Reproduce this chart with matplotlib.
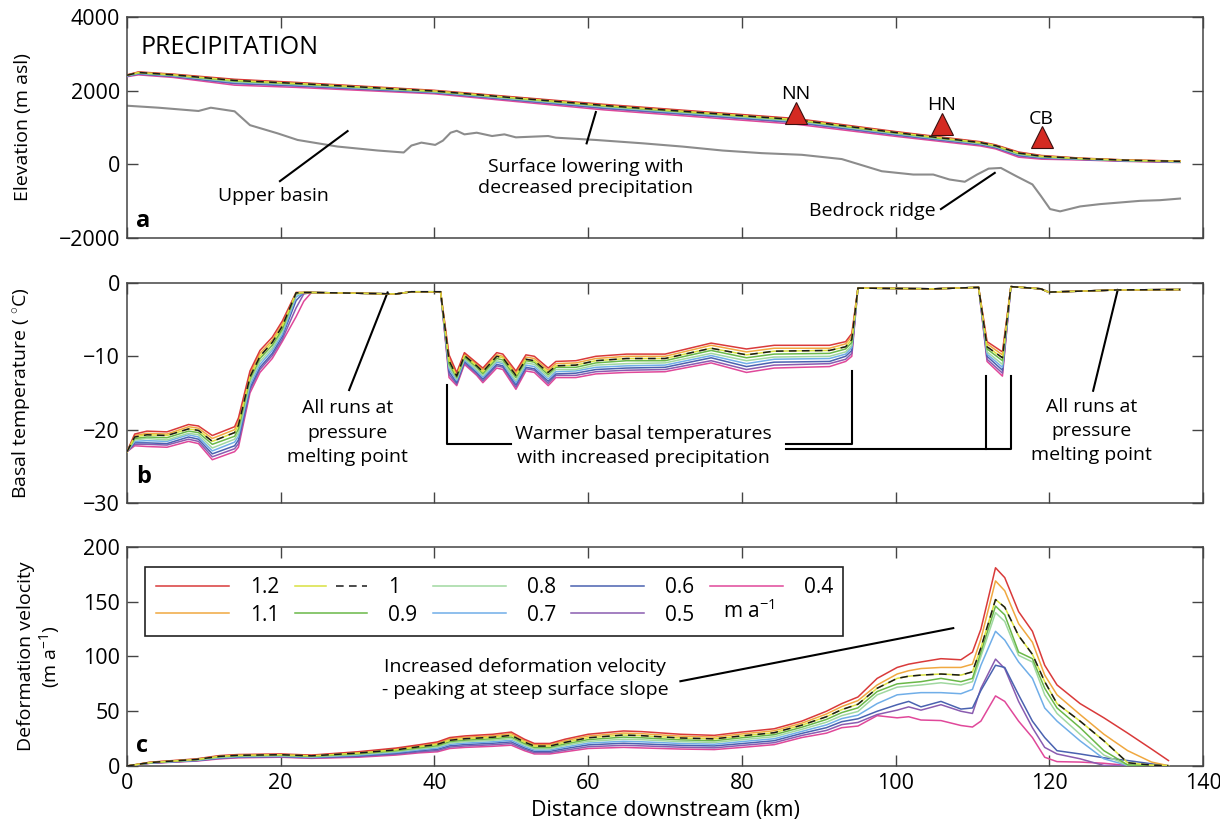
import matplotlib
matplotlib.use("Agg")
import matplotlib.pyplot as plt
from matplotlib.lines import Line2D
from matplotlib.legend_handler import HandlerTuple

plt.rcParams['font.family'] = ['Open Sans', 'DejaVu Sans']
plt.rcParams['mathtext.fontset'] = 'custom'
plt.rcParams['mathtext.rm'] = 'Open Sans'
plt.rcParams['mathtext.it'] = 'Open Sans:italic'
plt.rcParams['axes.unicode_minus'] = True

# ---------------- data ----------------
precip_labels = ['1.2', '1.1', '1', '0.9', '0.8', '0.7', '0.6', '0.5', '0.4']
series_colors = ['#d93a3a', '#f0a840', '#1a1a1a', '#6ab848', '#a0d8a0',
                 '#70aee8', '#4a62b0', '#8a5cb0', '#e0489a']
dash_under_color = '#d8e040'

# panel a: bedrock profile
bed_km = [0, 4.1, 9.3, 10.9, 14.0, 16.0, 19.6, 22.2, 27.4, 32.6, 36.0, 37.0, 38.3,
          40.1, 41.1, 42.1, 42.9, 43.9, 45.5, 47.5, 49.1, 50.6, 52.7, 54.8, 55.8,
          61.0, 67.1, 72.3, 77.5, 82.6, 87.8, 93.0, 98.2, 102.3, 104.9, 107.0,
          109.0, 110.6, 112.1, 113.7, 115.7, 117.8, 118.9, 120.1, 121.4, 124.0,
          126.6, 129.2, 131.8, 134.4, 137.0]
bed_elev = [1592, 1538, 1449, 1538, 1440, 1064, 841, 662, 483, 376, 322, 510, 590,
            528, 644, 859, 912, 814, 859, 769, 814, 733, 751, 769, 724,
            662, 571, 482, 375, 304, 259, 143, -187, -277, -277, -411,
            -473, -277, -116, -98, -321, -545, -857, -1214, -1277, -1143,
            -1080, -1036, -991, -973, -929]

# panel a: surface elevation for each precipitation run
surf_km = [0, 1.5, 6, 14, 22, 40, 62, 87, 100, 111, 113, 116, 119, 124, 130, 137]
surf_12 = [2430, 2510, 2450, 2310, 2225, 2010, 1630, 1245, 890, 615, 530, 335, 240, 170, 120, 90]
surf_11 = [2425, 2502, 2441, 2294, 2211, 2000, 1615, 1230, 877, 603, 519, 321, 230, 165, 116, 86]
surf_10 = [2420, 2494, 2432, 2278, 2198, 1991, 1600, 1214, 864, 592, 508, 307, 220, 160, 112, 82]
surf_09 = [2415, 2486, 2423, 2262, 2184, 1981, 1585, 1198, 851, 580, 497, 293, 210, 155, 108, 78]
surf_08 = [2410, 2478, 2414, 2246, 2171, 1972, 1570, 1183, 838, 569, 486, 279, 200, 150, 104, 74]
surf_07 = [2405, 2470, 2405, 2230, 2158, 1962, 1555, 1168, 825, 557, 475, 265, 190, 145, 100, 70]
surf_06 = [2399, 2460, 2394, 2211, 2141, 1951, 1537, 1149, 809, 544, 462, 248, 178, 139, 95, 65]
surf_05 = [2392, 2450, 2382, 2190, 2124, 1939, 1517, 1129, 792, 529, 448, 230, 165, 132, 90, 60]
surf_04 = [2380, 2430, 2360, 2150, 2090, 1915, 1480, 1090, 760, 500, 420, 195, 140, 120, 80, 50]

# panel a: station markers
station_names = ['NN', 'HN', 'CB']
station_km = [87.0, 106.0, 119.0]
station_elev = [1400, 1100, 730]

# panel b: basal temperature
temp_km = [0, 1.0, 2.6, 5.2, 8.0, 9.3, 11.1, 14.0, 14.5, 16.0, 17.3, 18.9, 20.2, 22.0,
           23.0, 24.0, 30, 35, 37, 40.8, 41.9, 42.9, 43.9, 45.5, 46.3, 48.1, 48.9,
           50.6, 51.9, 53.0, 54.8, 55.8, 58.4, 61.0, 65, 70, 76, 80.6, 84.2, 91.4,
           93.5, 94.3, 95.1, 100, 105, 110.8, 111.9, 113.9, 115, 118.9, 119.9, 129, 137]
temp_12 = [-23.0, -20.6, -20.2, -20.3, -19.3, -19.5, -20.8, -19.6, -18.4, -12.0, -9.2, -7.4, -5.2, -1.3,
           -1.3, -1.3, -1.4, -1.5, -1.2, -1.2, -9.8, -12.2, -9.5, -10.9, -11.6, -9.5, -9.7,
           -12.0, -9.8, -10.0, -11.6, -10.7, -10.6, -10.0, -9.7, -9.7, -8.2, -9.0, -8.5, -8.5,
           -8.0, -6.9, -0.7, -0.75, -0.8, -0.6, -8.0, -9.4, -0.5, -0.8, -1.25, -0.95, -0.9]
temp_11 = [-23.0, -20.8, -20.5, -20.6, -19.6, -19.8, -21.2, -20.0, -18.9, -12.4, -9.6, -7.8, -5.6, -1.3,
           -1.3, -1.3, -1.4, -1.5, -1.2, -1.2, -10.2, -12.4, -9.7, -11.1, -11.85, -9.8, -10.0,
           -12.3, -10.1, -10.3, -11.9, -11.0, -10.9, -10.3, -10.0, -10.0, -8.5, -9.4, -8.9, -8.9,
           -8.3, -7.3, -0.7, -0.75, -0.8, -0.6, -8.3, -9.8, -0.5, -0.8, -1.25, -0.95, -0.9]
temp_10 = [-23.0, -21.0, -20.7, -20.8, -19.9, -20.1, -21.6, -20.4, -19.4, -12.8, -10.0, -8.1, -5.9, -1.35,
           -1.3, -1.3, -1.4, -1.5, -1.2, -1.2, -10.6, -12.7, -9.9, -11.3, -12.1, -10.0, -10.2,
           -12.6, -10.4, -10.6, -12.2, -11.3, -11.2, -10.6, -10.3, -10.3, -8.9, -9.8, -9.3, -9.2,
           -8.7, -7.7, -0.7, -0.75, -0.8, -0.6, -8.7, -10.2, -0.5, -0.8, -1.25, -0.95, -0.9]
temp_09 = [-23.0, -21.2, -21.0, -21.1, -20.2, -20.4, -22.0, -20.9, -19.9, -13.1, -10.3, -8.5, -6.3, -1.4,
           -1.3, -1.3, -1.4, -1.5, -1.2, -1.2, -11.0, -12.9, -10.1, -11.5, -12.35, -10.3, -10.5,
           -12.9, -10.6, -10.8, -12.5, -11.5, -11.5, -10.9, -10.6, -10.6, -9.2, -10.2, -9.7, -9.6,
           -9.0, -8.1, -0.7, -0.75, -0.8, -0.6, -9.0, -10.6, -0.5, -0.8, -1.25, -0.95, -0.9]
temp_08 = [-23.0, -21.4, -21.2, -21.4, -20.5, -20.7, -22.5, -21.3, -20.4, -13.5, -10.7, -8.9, -6.6, -1.6,
           -1.3, -1.3, -1.4, -1.5, -1.2, -1.2, -11.4, -13.1, -10.3, -11.8, -12.6, -10.6, -10.8,
           -13.3, -10.9, -11.1, -12.8, -11.8, -11.8, -11.2, -11.0, -10.9, -9.6, -10.6, -10.1, -10.0,
           -9.4, -8.5, -0.7, -0.75, -0.8, -0.6, -9.4, -11.1, -0.5, -0.8, -1.25, -0.95, -0.9]
temp_07 = [-23.0, -21.6, -21.5, -21.6, -20.7, -21.0, -22.9, -21.7, -20.9, -13.9, -11.1, -9.2, -7.0, -1.9,
           -1.3, -1.3, -1.4, -1.5, -1.2, -1.2, -11.7, -13.3, -10.5, -12.0, -12.85, -10.8, -11.0,
           -13.6, -11.2, -11.4, -13.1, -12.1, -12.0, -11.5, -11.3, -11.2, -9.9, -11.0, -10.4, -10.3,
           -9.7, -8.8, -0.7, -0.75, -0.8, -0.6, -9.7, -11.5, -0.5, -0.8, -1.25, -0.95, -0.9]
temp_06 = [-23.0, -21.8, -21.8, -21.9, -21.0, -21.3, -23.3, -22.2, -21.4, -14.3, -11.5, -9.6, -7.3, -2.4,
           -1.3, -1.3, -1.4, -1.5, -1.2, -1.2, -12.1, -13.6, -10.7, -12.2, -13.1, -11.1, -11.3,
           -13.9, -11.5, -11.7, -13.4, -12.4, -12.3, -11.8, -11.6, -11.5, -10.2, -11.4, -10.8, -10.7,
           -10.0, -9.2, -0.7, -0.75, -0.8, -0.6, -10.0, -11.9, -0.5, -0.8, -1.25, -0.95, -0.9]
temp_05 = [-23.0, -22.0, -22.0, -22.1, -21.3, -21.6, -23.7, -22.6, -21.9, -14.6, -11.8, -9.9, -7.7, -3.4,
           -1.5, -1.3, -1.4, -1.5, -1.2, -1.2, -12.5, -13.8, -10.9, -12.4, -13.35, -11.3, -11.5,
           -14.2, -11.7, -11.9, -13.7, -12.6, -12.6, -12.1, -11.9, -11.8, -10.6, -11.8, -11.2, -11.0,
           -10.4, -9.6, -0.7, -0.75, -0.8, -0.6, -10.4, -12.3, -0.5, -0.8, -1.25, -0.95, -0.9]
temp_04 = [-23.0, -22.2, -22.3, -22.4, -21.6, -21.9, -24.1, -23.0, -22.4, -15.0, -12.2, -10.3, -8.0, -4.6,
           -2.5, -1.3, -1.4, -1.5, -1.2, -1.2, -12.9, -14.0, -11.1, -12.6, -13.6, -11.6, -11.8,
           -14.5, -12.0, -12.2, -14.0, -12.9, -12.9, -12.4, -12.2, -12.1, -10.9, -12.2, -11.6, -11.4,
           -10.7, -10.0, -0.7, -0.75, -0.8, -0.6, -10.7, -12.7, -0.5, -0.8, -1.25, -0.95, -0.9]

# panel c: deformation velocity
vel_km = [0, 3, 9, 12, 14.5, 20, 24, 30, 35, 38, 40.4, 42, 44, 47.6, 50, 51.7, 53, 55, 57,
          60, 64.6, 67, 72, 76.4, 80, 84.2, 87.8, 91, 93, 95.1, 97.6, 100.2, 101.7,
          103.3, 105.9, 108.5, 110, 111.1, 113, 114.2, 116, 117.8, 119.4, 121, 124,
          127.1, 130.2, 133.3, 135.5]
vel_12 = [0, 3.5, 6.5, 9.5, 10.5, 11, 10, 13, 16.4, 19.4, 22, 26, 27.5, 29, 31, 24.5, 20.6, 20.6, 24.5,
          29, 32, 31.4, 29, 28, 31, 34, 41, 50, 57, 63, 80, 90, 93,
          95, 98, 97, 104, 125, 181, 172, 141, 123, 92, 74, 57, 44, 30, 15.5, 5]
vel_11 = [0, 3.4, 6.2, 9.1, 10.1, 10.6, 9.6, 12.4, 15.6, 18.5, 20.9, 24.8, 26.2, 27.6, 29.5, 23.2, 19.4, 19.4, 23.1,
          27.4, 30.1, 29.5, 27.3, 26.4, 29.3, 32.2, 39.1, 47.5, 54.3, 59.7, 74, 84, 87,
          89, 90, 90, 93, 116, 169, 160, 130, 113, 83, 65, 47, 29, 14, 3.6, 0.3]
vel_10 = [0, 3.2, 6.0, 8.8, 9.8, 10.3, 9.3, 11.8, 14.8, 17.6, 19.8, 23.5, 24.9, 26.3, 28.0, 21.9, 18.2, 18.2, 21.6,
          25.8, 28.3, 27.7, 25.6, 24.8, 27.5, 30.4, 37.3, 45.0, 51.5, 56.4, 71, 80, 82,
          83, 84, 83, 86, 108, 152, 145, 119, 102, 77, 57, 41, 23, 3, 0.8, 0.3]
vel_09 = [0, 3.1, 5.8, 8.4, 9.4, 9.9, 8.9, 11.1, 14.0, 16.6, 18.6, 22.3, 23.6, 24.9, 26.5, 20.6, 17.0, 17.0, 20.2,
          24.1, 26.4, 25.8, 23.9, 23.1, 25.8, 28.6, 35.4, 42.5, 48.8, 53.1, 68, 75, 76,
          77, 80, 77, 80, 104, 146, 138, 104, 98, 71, 53, 35, 14, 1, 0.5, 0.2]
vel_08 = [0, 3.0, 5.5, 8.0, 9.0, 9.5, 8.5, 10.5, 13.2, 15.7, 17.5, 21.0, 22.3, 23.5, 25.0, 19.3, 15.8, 15.8, 18.8,
          22.5, 24.5, 24.0, 22.3, 21.5, 24.0, 26.8, 33.5, 40.0, 46.0, 49.8, 65, 72, 73,
          74, 76, 74, 77, 100, 140, 132, 101, 95, 65, 48, 29, 10, 0.8, 0.4, 0.2]
vel_07 = [0, 2.9, 5.2, 7.6, 8.6, 9.1, 8.1, 9.9, 12.4, 14.8, 16.4, 19.8, 20.9, 22.1, 23.5, 17.9, 14.6, 14.6, 17.3,
          20.9, 22.6, 22.1, 20.6, 19.9, 22.3, 24.9, 31.6, 37.5, 43.3, 46.4, 57, 65, 66,
          67, 67, 66, 70, 92, 123, 115, 95, 80, 53, 41, 23, 6.6, 0.5, 0.3, 0.1]
vel_06 = [0, 2.7, 5.0, 7.3, 8.3, 8.8, 7.8, 9.3, 11.6, 13.9, 15.3, 18.5, 19.6, 20.8, 22.0, 16.6, 13.4, 13.4, 15.9,
          19.3, 20.8, 20.2, 18.9, 18.3, 20.5, 23.1, 29.8, 35.0, 40.5, 43.1, 50, 56, 59,
          54, 59, 52, 53, 69, 92, 90, 65, 41, 26, 14, 11, 7.5, 5, 2, 0.3]
vel_05 = [0, 2.6, 4.8, 6.9, 7.9, 8.4, 7.4, 8.6, 10.8, 12.9, 14.1, 17.3, 18.3, 19.4, 20.5, 15.3, 12.2, 12.2, 14.4,
          17.6, 18.9, 18.4, 17.2, 16.6, 18.8, 21.3, 27.9, 32.5, 37.8, 39.8, 47, 51, 54,
          51, 56, 50, 48, 71, 97.6, 89, 59, 35, 17, 11, 6.6, 0.5, 0.3, 0.2, 0.1]
vel_04 = [0, 2.5, 4.5, 6.5, 7.5, 8, 7, 8, 10, 12, 13, 16, 17, 18, 19, 14, 11, 11, 13,
          16, 17, 16.5, 15.5, 15, 17, 19.5, 26, 30, 35, 36.5, 46, 44, 45,
          42, 41.5, 37, 35.6, 41, 64, 59, 41, 26, 8, 4, 3.6, 2.5, 0.5, 0.3, 0.2]

surf_series = [surf_12, surf_11, surf_10, surf_09, surf_08, surf_07, surf_06, surf_05, surf_04]
temp_series = [temp_12, temp_11, temp_10, temp_09, temp_08, temp_07, temp_06, temp_05, temp_04]
vel_series = [vel_12, vel_11, vel_10, vel_09, vel_08, vel_07, vel_06, vel_05, vel_04]

x_ticks = [0, 20, 40, 60, 80, 100, 120, 140]

# ---------------- figure ----------------
fig = plt.figure(figsize=(12.2, 8.31), dpi=100)
L, W = 0.1041, 0.8820
ax_a = fig.add_axes([L, 0.7136, W, 0.2659])
ax_b = fig.add_axes([L, 0.3947, W, 0.2648])
ax_c = fig.add_axes([L, 0.0782, W, 0.2636])

TICK_FS = 15.5
YLAB_FS = 14
XLAB_FS = 15.5
ANN_FS = 14
LW = 1.1
spine_col = '#444444'


def style_axes(ax, yticks, ylim, show_xlabels):
    ax.set_xlim(0, 140)
    ax.set_ylim(*ylim)
    ax.set_xticks(x_ticks)
    ax.set_yticks(yticks)
    ax.tick_params(direction='in', top=True, right=True, length=8, width=1,
                   color=spine_col, labelsize=TICK_FS, pad=5)
    if not show_xlabels:
        ax.set_xticklabels([])
    for s in ax.spines.values():
        s.set_color(spine_col)
        s.set_linewidth(1.1)


def draw_series(ax, xs, series_list):
    for i, (ys, col) in enumerate(zip(series_list, series_colors)):
        if precip_labels[i] == '1':
            continue
        ax.plot(xs, ys, color=col, lw=LW, zorder=3 + (8 - i) * 0.01)
    i1 = precip_labels.index('1')
    ax.plot(xs, series_list[i1], color=dash_under_color, lw=LW, zorder=3.2)
    ax.plot(xs, series_list[i1], color='#1a1a1a', lw=LW, ls=(0, (5, 3.5)), zorder=3.21)


# ---- panel a ----
style_axes(ax_a, [-2000, 0, 2000, 4000], (-2000, 4000), False)
ax_a.plot(bed_km, bed_elev, color='#8c8c8c', lw=1.5, zorder=2)
draw_series(ax_a, surf_km, surf_series)
ax_a.plot(station_km, station_elev, ls='none', marker='^', ms=16.5,
          markerfacecolor='#d42a22', markeredgecolor='#3a1010', markeredgewidth=0.8, zorder=5)
for name, sx, se in zip(station_names, station_km, station_elev):
    ax_a.text(sx, se + 500, name, ha='center', va='center', fontsize=ANN_FS)
ax_a.set_ylabel('Elevation (m asl)', fontsize=YLAB_FS)
ax_a.yaxis.set_label_coords(-0.088, 0.5)
ax_a.text(1.8, 3170, 'PRECIPITATION', fontsize=18, ha='left', va='center')
ax_a.text(1.2, -1530, 'a', fontsize=17, fontweight='bold', ha='left', va='center')
ax_a.plot([28.7, 19.9], [903, -456], color='black', lw=1.5)
ax_a.text(19.1, -860, 'Upper basin', fontsize=ANN_FS, ha='center', va='center')
ax_a.plot([61.0, 59.8], [1420, 570], color='black', lw=1.5)
ax_a.text(59.7, -360, 'Surface lowering with\ndecreased precipitation', fontsize=ANN_FS,
          ha='center', va='center', linespacing=1.2)
ax_a.plot([105.9, 112.9], [-1214, -232], color='black', lw=1.5)
ax_a.text(97.0, -1270, 'Bedrock ridge', fontsize=ANN_FS, ha='center', va='center')

# ---- panel b ----
style_axes(ax_b, [-30, -20, -10, 0], (-30, 0), False)
draw_series(ax_b, temp_km, temp_series)
ax_b.set_ylabel('Basal temperature ( $^{\\circ}$C)', fontsize=YLAB_FS)
ax_b.yaxis.set_label_coords(-0.088, 0.5)
ax_b.text(1.2, -26.4, 'b', fontsize=17, fontweight='bold', ha='left', va='center')
ax_b.plot([33.9, 28.9], [-1.3, -14.6], color='black', lw=1.5)
ax_b.text(28.7, -20.4, 'All runs at\npressure\nmelting point', fontsize=ANN_FS,
          ha='center', va='center', linespacing=1.45)
ax_b.plot([128.9, 125.7], [-0.95, -14.7], color='black', lw=1.5)
ax_b.text(125.5, -20.2, 'All runs at\npressure\nmelting point', fontsize=ANN_FS,
          ha='center', va='center', linespacing=1.45)
ax_b.text(67.2, -22.2, 'Warmer basal temperatures\nwith increased precipitation',
          fontsize=ANN_FS, ha='center', va='center', linespacing=1.4)
ax_b.plot([41.6, 41.6, 49.9], [-13.9, -22.0, -22.0], color='black', lw=1.5)
ax_b.plot([85.7, 94.3, 94.3], [-22.0, -22.0, -12.0], color='black', lw=1.5)
ax_b.plot([85.7, 115.0, 115.0], [-22.7, -22.7, -12.7], color='black', lw=1.5)
ax_b.plot([111.7, 111.7], [-22.7, -12.7], color='black', lw=1.5)

# ---- panel c ----
style_axes(ax_c, [0, 50, 100, 150, 200], (0, 200), True)
draw_series(ax_c, vel_km, vel_series)
ax_c.set_ylabel('Deformation velocity\n(m a$^{-1}$)', fontsize=YLAB_FS, linespacing=1.15)
ax_c.yaxis.set_label_coords(-0.06, 0.5)
ax_c.set_xlabel('Distance downstream (km)', fontsize=XLAB_FS, labelpad=4)
ax_c.text(1.2, 18.5, 'c', fontsize=17, fontweight='bold', ha='left', va='center')
ax_c.plot([72.0, 107.5], [77.4, 125.9], color='black', lw=1.5)
ax_c.text(51.8, 80, 'Increased deformation velocity\n- peaking at steep surface slope',
          fontsize=ANN_FS, ha='center', va='center', linespacing=1.4)

# legend
handles = []
for i, col in enumerate(series_colors):
    if precip_labels[i] == '1':
        handles.append((Line2D([], [], color=dash_under_color, lw=LW),
                        Line2D([], [], color='#1a1a1a', lw=LW, ls=(0, (5, 3.5)))))
    else:
        handles.append(Line2D([], [], color=col, lw=LW))
leg = ax_c.legend(handles, precip_labels, ncol=5, loc='lower left',
                  bbox_to_anchor=(2.4 / 140, 118.7 / 200, 90.8 / 140, 66.3 / 200),
                  mode='expand', frameon=True, fancybox=False, edgecolor='#222222',
                  framealpha=1, handlelength=3.5, handletextpad=1.0, fontsize=15,
                  borderaxespad=0, labelspacing=0.3, borderpad=0.5,
                  handler_map={tuple: HandlerTuple(ndivide=None)})
leg.get_frame().set_linewidth(1.2)
ax_c.text(77.5, 141.0, 'm a$^{-1}$', fontsize=15, ha='left', va='center', zorder=10)

fig.savefig('out.png', dpi=100)
